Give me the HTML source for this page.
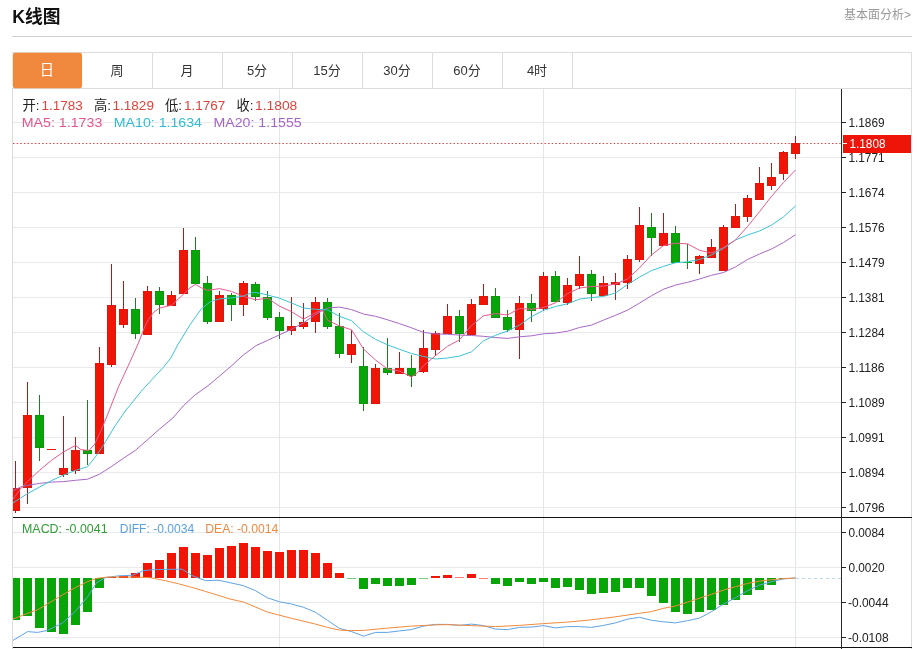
<!DOCTYPE html>
<html lang="zh-CN">
<head>
<meta charset="utf-8">
<title>K线图</title>
<style>
html,body{margin:0;padding:0;background:#fff;}
body{width:917px;height:649px;overflow:hidden;font-family:"Liberation Sans","Noto Sans CJK SC",sans-serif;}
svg{display:block;}
svg text{font-family:"Liberation Sans","Noto Sans CJK SC",sans-serif;}
svg.tx{will-change:transform;}
.c rect,.c line{shape-rendering:crispEdges;}
</style>
</head>
<body>
<svg class="tx" width="917" height="649" viewBox="0 0 917 649">
<rect x="0" y="0" width="917" height="649" fill="#fff"/>
<text x="12.3" y="22.8" font-size="18" font-weight="bold" fill="#111" textLength="48.3" lengthAdjust="spacingAndGlyphs">K线图</text>
<text x="911" y="19" font-size="12" fill="#999" text-anchor="end">基本面分析&gt;</text>
<g class="c">
<rect x="12" y="36" width="900" height="1" fill="#cfcfcf"/>
<rect x="12" y="52" width="900" height="1" fill="#dcdcdc"/>
<rect x="12" y="88" width="900" height="1" fill="#dcdcdc"/>
<rect x="152" y="52" width="1" height="36" fill="#dcdcdc"/>
<rect x="222" y="52" width="1" height="36" fill="#dcdcdc"/>
<rect x="292" y="52" width="1" height="36" fill="#dcdcdc"/>
<rect x="362" y="52" width="1" height="36" fill="#dcdcdc"/>
<rect x="432" y="52" width="1" height="36" fill="#dcdcdc"/>
<rect x="502" y="52" width="1" height="36" fill="#dcdcdc"/>
<rect x="572" y="52" width="1" height="36" fill="#dcdcdc"/>
<rect x="12" y="88" width="1" height="561" fill="#dcdcdc"/>
<rect x="911" y="52" width="1" height="597" fill="#dcdcdc"/>
</g>
<rect x="12.8" y="52.7" width="69.2" height="35.5" rx="2.2" ry="2.2" fill="#f0883e"/>
<text x="47" y="75.1" font-size="14.3" fill="#fff" text-anchor="middle">日</text>
<text x="117" y="74.6" font-size="13" fill="#333" text-anchor="middle">周</text>
<text x="187" y="74.6" font-size="13" fill="#333" text-anchor="middle">月</text>
<text x="257" y="74.6" font-size="13" fill="#333" text-anchor="middle">5分</text>
<text x="327" y="74.6" font-size="13" fill="#333" text-anchor="middle">15分</text>
<text x="397" y="74.6" font-size="13" fill="#333" text-anchor="middle">30分</text>
<text x="467" y="74.6" font-size="13" fill="#333" text-anchor="middle">60分</text>
<text x="537" y="74.6" font-size="13" fill="#333" text-anchor="middle">4时</text>
<g class="c">
<rect x="13" y="122" width="828" height="1" fill="#e8eaed"/>
<rect x="13" y="157" width="828" height="1" fill="#e8eaed"/>
<rect x="13" y="192" width="828" height="1" fill="#e8eaed"/>
<rect x="13" y="227" width="828" height="1" fill="#e8eaed"/>
<rect x="13" y="262" width="828" height="1" fill="#e8eaed"/>
<rect x="13" y="297" width="828" height="1" fill="#e8eaed"/>
<rect x="13" y="332" width="828" height="1" fill="#e8eaed"/>
<rect x="13" y="367" width="828" height="1" fill="#e8eaed"/>
<rect x="13" y="402" width="828" height="1" fill="#e8eaed"/>
<rect x="13" y="437" width="828" height="1" fill="#e8eaed"/>
<rect x="13" y="472" width="828" height="1" fill="#e8eaed"/>
<rect x="13" y="507" width="828" height="1" fill="#e8eaed"/>
<rect x="13" y="532" width="828" height="1" fill="#e8eaed"/>
<rect x="13" y="567" width="828" height="1" fill="#e8eaed"/>
<rect x="13" y="602" width="828" height="1" fill="#e8eaed"/>
<rect x="13" y="637" width="828" height="1" fill="#e8eaed"/>
<rect x="279" y="89" width="1" height="558" fill="#e3e6ec"/>
<rect x="543" y="89" width="1" height="558" fill="#e3e6ec"/>
<rect x="795" y="89" width="1" height="558" fill="#e3e6ec"/>
</g>
<line x1="13" y1="143.5" x2="841" y2="143.5" stroke="#d44a44" stroke-width="1" stroke-dasharray="1.5,2.14"/>
<clipPath id="cp"><rect x="13" y="89" width="828" height="428"/></clipPath>
<g class="c" clip-path="url(#cp)">
<rect x="15" y="461" width="1" height="52" fill="#ad1a1c"/>
<rect x="11" y="488" width="9" height="23" fill="#d8190b"/>
<rect x="12" y="489" width="7" height="21" fill="#f01506"/>
<rect x="27" y="382" width="1" height="122" fill="#ad1a1c"/>
<rect x="23" y="415" width="9" height="73" fill="#d8190b"/>
<rect x="24" y="416" width="7" height="71" fill="#f01506"/>
<rect x="39" y="395" width="1" height="66" fill="#1f7d22"/>
<rect x="35" y="415" width="9" height="33" fill="#10950f"/>
<rect x="36" y="416" width="7" height="31" fill="#07a507"/>
<rect x="47" y="449" width="9" height="1" fill="#f01506"/>
<rect x="63" y="416" width="1" height="61" fill="#ad1a1c"/>
<rect x="59" y="468" width="9" height="7" fill="#d8190b"/>
<rect x="60" y="469" width="7" height="5" fill="#f01506"/>
<rect x="75" y="437" width="1" height="37" fill="#ad1a1c"/>
<rect x="71" y="450" width="9" height="21" fill="#d8190b"/>
<rect x="72" y="451" width="7" height="19" fill="#f01506"/>
<rect x="87" y="400" width="1" height="65" fill="#1f7d22"/>
<rect x="83" y="450" width="9" height="4" fill="#10950f"/>
<rect x="84" y="451" width="7" height="2" fill="#07a507"/>
<rect x="99" y="347" width="1" height="107" fill="#ad1a1c"/>
<rect x="95" y="363" width="9" height="91" fill="#d8190b"/>
<rect x="96" y="364" width="7" height="89" fill="#f01506"/>
<rect x="111" y="264" width="1" height="103" fill="#ad1a1c"/>
<rect x="107" y="305" width="9" height="60" fill="#d8190b"/>
<rect x="108" y="306" width="7" height="58" fill="#f01506"/>
<rect x="123" y="281" width="1" height="47" fill="#ad1a1c"/>
<rect x="119" y="309" width="9" height="16" fill="#d8190b"/>
<rect x="120" y="310" width="7" height="14" fill="#f01506"/>
<rect x="135" y="298" width="1" height="41" fill="#1f7d22"/>
<rect x="131" y="309" width="9" height="25" fill="#10950f"/>
<rect x="132" y="310" width="7" height="23" fill="#07a507"/>
<rect x="147" y="286" width="1" height="49" fill="#ad1a1c"/>
<rect x="143" y="291" width="9" height="44" fill="#d8190b"/>
<rect x="144" y="292" width="7" height="42" fill="#f01506"/>
<rect x="159" y="287" width="1" height="27" fill="#1f7d22"/>
<rect x="155" y="291" width="9" height="14" fill="#10950f"/>
<rect x="156" y="292" width="7" height="12" fill="#07a507"/>
<rect x="171" y="291" width="1" height="14" fill="#ad1a1c"/>
<rect x="167" y="295" width="9" height="11" fill="#d8190b"/>
<rect x="168" y="296" width="7" height="9" fill="#f01506"/>
<rect x="183" y="228" width="1" height="66" fill="#ad1a1c"/>
<rect x="179" y="250" width="9" height="44" fill="#d8190b"/>
<rect x="180" y="251" width="7" height="42" fill="#f01506"/>
<rect x="195" y="237" width="1" height="47" fill="#1f7d22"/>
<rect x="191" y="250" width="9" height="34" fill="#10950f"/>
<rect x="192" y="251" width="7" height="32" fill="#07a507"/>
<rect x="207" y="276" width="1" height="48" fill="#1f7d22"/>
<rect x="203" y="283" width="9" height="39" fill="#10950f"/>
<rect x="204" y="284" width="7" height="37" fill="#07a507"/>
<rect x="219" y="291" width="1" height="31" fill="#ad1a1c"/>
<rect x="215" y="295" width="9" height="27" fill="#d8190b"/>
<rect x="216" y="296" width="7" height="25" fill="#f01506"/>
<rect x="231" y="293" width="1" height="28" fill="#1f7d22"/>
<rect x="227" y="295" width="9" height="10" fill="#10950f"/>
<rect x="228" y="296" width="7" height="8" fill="#07a507"/>
<rect x="243" y="281" width="1" height="35" fill="#ad1a1c"/>
<rect x="239" y="283" width="9" height="22" fill="#d8190b"/>
<rect x="240" y="284" width="7" height="20" fill="#f01506"/>
<rect x="255" y="282" width="1" height="19" fill="#1f7d22"/>
<rect x="251" y="284" width="9" height="13" fill="#10950f"/>
<rect x="252" y="285" width="7" height="11" fill="#07a507"/>
<rect x="267" y="291" width="1" height="29" fill="#1f7d22"/>
<rect x="263" y="297" width="9" height="21" fill="#10950f"/>
<rect x="264" y="298" width="7" height="19" fill="#07a507"/>
<rect x="279" y="312" width="1" height="27" fill="#1f7d22"/>
<rect x="275" y="317" width="9" height="14" fill="#10950f"/>
<rect x="276" y="318" width="7" height="12" fill="#07a507"/>
<rect x="291" y="297" width="1" height="38" fill="#ad1a1c"/>
<rect x="287" y="326" width="9" height="5" fill="#d8190b"/>
<rect x="288" y="327" width="7" height="3" fill="#f01506"/>
<rect x="303" y="303" width="1" height="26" fill="#ad1a1c"/>
<rect x="299" y="322" width="9" height="5" fill="#d8190b"/>
<rect x="300" y="323" width="7" height="3" fill="#f01506"/>
<rect x="315" y="297" width="1" height="36" fill="#ad1a1c"/>
<rect x="311" y="302" width="9" height="20" fill="#d8190b"/>
<rect x="312" y="303" width="7" height="18" fill="#f01506"/>
<rect x="327" y="298" width="1" height="31" fill="#1f7d22"/>
<rect x="323" y="302" width="9" height="25" fill="#10950f"/>
<rect x="324" y="303" width="7" height="23" fill="#07a507"/>
<rect x="339" y="313" width="1" height="45" fill="#1f7d22"/>
<rect x="335" y="326" width="9" height="28" fill="#10950f"/>
<rect x="336" y="327" width="7" height="26" fill="#07a507"/>
<rect x="351" y="330" width="1" height="33" fill="#ad1a1c"/>
<rect x="347" y="344" width="9" height="11" fill="#d8190b"/>
<rect x="348" y="345" width="7" height="9" fill="#f01506"/>
<rect x="363" y="347" width="1" height="64" fill="#1f7d22"/>
<rect x="359" y="366" width="9" height="38" fill="#10950f"/>
<rect x="360" y="367" width="7" height="36" fill="#07a507"/>
<rect x="375" y="364" width="1" height="40" fill="#ad1a1c"/>
<rect x="371" y="368" width="9" height="36" fill="#d8190b"/>
<rect x="372" y="369" width="7" height="34" fill="#f01506"/>
<rect x="387" y="338" width="1" height="37" fill="#1f7d22"/>
<rect x="383" y="368" width="9" height="5" fill="#10950f"/>
<rect x="384" y="369" width="7" height="3" fill="#07a507"/>
<rect x="399" y="352" width="1" height="22" fill="#ad1a1c"/>
<rect x="395" y="368" width="9" height="6" fill="#d8190b"/>
<rect x="396" y="369" width="7" height="4" fill="#f01506"/>
<rect x="411" y="355" width="1" height="32" fill="#1f7d22"/>
<rect x="407" y="368" width="9" height="8" fill="#10950f"/>
<rect x="408" y="369" width="7" height="6" fill="#07a507"/>
<rect x="423" y="330" width="1" height="43" fill="#ad1a1c"/>
<rect x="419" y="348" width="9" height="24" fill="#d8190b"/>
<rect x="420" y="349" width="7" height="22" fill="#f01506"/>
<rect x="435" y="331" width="1" height="25" fill="#ad1a1c"/>
<rect x="431" y="333" width="9" height="17" fill="#d8190b"/>
<rect x="432" y="334" width="7" height="15" fill="#f01506"/>
<rect x="447" y="304" width="1" height="30" fill="#ad1a1c"/>
<rect x="443" y="316" width="9" height="18" fill="#d8190b"/>
<rect x="444" y="317" width="7" height="16" fill="#f01506"/>
<rect x="459" y="310" width="1" height="32" fill="#1f7d22"/>
<rect x="455" y="316" width="9" height="18" fill="#10950f"/>
<rect x="456" y="317" width="7" height="16" fill="#07a507"/>
<rect x="471" y="299" width="1" height="36" fill="#ad1a1c"/>
<rect x="467" y="304" width="9" height="31" fill="#d8190b"/>
<rect x="468" y="305" width="7" height="29" fill="#f01506"/>
<rect x="483" y="284" width="1" height="21" fill="#ad1a1c"/>
<rect x="479" y="296" width="9" height="9" fill="#d8190b"/>
<rect x="480" y="297" width="7" height="7" fill="#f01506"/>
<rect x="495" y="288" width="1" height="30" fill="#1f7d22"/>
<rect x="491" y="296" width="9" height="22" fill="#10950f"/>
<rect x="492" y="297" width="7" height="20" fill="#07a507"/>
<rect x="507" y="310" width="1" height="22" fill="#1f7d22"/>
<rect x="503" y="317" width="9" height="13" fill="#10950f"/>
<rect x="504" y="318" width="7" height="11" fill="#07a507"/>
<rect x="519" y="296" width="1" height="63" fill="#ad1a1c"/>
<rect x="515" y="303" width="9" height="27" fill="#d8190b"/>
<rect x="516" y="304" width="7" height="25" fill="#f01506"/>
<rect x="531" y="294" width="1" height="28" fill="#1f7d22"/>
<rect x="527" y="303" width="9" height="8" fill="#10950f"/>
<rect x="528" y="304" width="7" height="6" fill="#07a507"/>
<rect x="543" y="272" width="1" height="39" fill="#ad1a1c"/>
<rect x="539" y="276" width="9" height="33" fill="#d8190b"/>
<rect x="540" y="277" width="7" height="31" fill="#f01506"/>
<rect x="555" y="271" width="1" height="31" fill="#1f7d22"/>
<rect x="551" y="276" width="9" height="26" fill="#10950f"/>
<rect x="552" y="277" width="7" height="24" fill="#07a507"/>
<rect x="567" y="278" width="1" height="27" fill="#ad1a1c"/>
<rect x="563" y="285" width="9" height="18" fill="#d8190b"/>
<rect x="564" y="286" width="7" height="16" fill="#f01506"/>
<rect x="579" y="256" width="1" height="33" fill="#ad1a1c"/>
<rect x="575" y="274" width="9" height="12" fill="#d8190b"/>
<rect x="576" y="275" width="7" height="10" fill="#f01506"/>
<rect x="591" y="270" width="1" height="31" fill="#1f7d22"/>
<rect x="587" y="274" width="9" height="20" fill="#10950f"/>
<rect x="588" y="275" width="7" height="18" fill="#07a507"/>
<rect x="603" y="276" width="1" height="20" fill="#ad1a1c"/>
<rect x="599" y="283" width="9" height="13" fill="#d8190b"/>
<rect x="600" y="284" width="7" height="11" fill="#f01506"/>
<rect x="615" y="273" width="1" height="27" fill="#ad1a1c"/>
<rect x="611" y="282" width="9" height="3" fill="#d8190b"/>
<rect x="612" y="283" width="7" height="1" fill="#f01506"/>
<rect x="627" y="255" width="1" height="34" fill="#ad1a1c"/>
<rect x="623" y="259" width="9" height="24" fill="#d8190b"/>
<rect x="624" y="260" width="7" height="22" fill="#f01506"/>
<rect x="639" y="207" width="1" height="55" fill="#ad1a1c"/>
<rect x="635" y="225" width="9" height="35" fill="#d8190b"/>
<rect x="636" y="226" width="7" height="33" fill="#f01506"/>
<rect x="651" y="213" width="1" height="43" fill="#1f7d22"/>
<rect x="647" y="227" width="9" height="11" fill="#10950f"/>
<rect x="648" y="228" width="7" height="9" fill="#07a507"/>
<rect x="663" y="213" width="1" height="33" fill="#ad1a1c"/>
<rect x="659" y="233" width="9" height="13" fill="#d8190b"/>
<rect x="660" y="234" width="7" height="11" fill="#f01506"/>
<rect x="675" y="226" width="1" height="37" fill="#1f7d22"/>
<rect x="671" y="233" width="9" height="30" fill="#10950f"/>
<rect x="672" y="234" width="7" height="28" fill="#07a507"/>
<rect x="687" y="244" width="1" height="25" fill="#1f7d22"/>
<rect x="683" y="262" width="9" height="1" fill="#07a507"/>
<rect x="699" y="255" width="1" height="19" fill="#ad1a1c"/>
<rect x="695" y="256" width="9" height="8" fill="#d8190b"/>
<rect x="696" y="257" width="7" height="6" fill="#f01506"/>
<rect x="711" y="239" width="1" height="19" fill="#ad1a1c"/>
<rect x="707" y="247" width="9" height="11" fill="#d8190b"/>
<rect x="708" y="248" width="7" height="9" fill="#f01506"/>
<rect x="723" y="225" width="1" height="46" fill="#ad1a1c"/>
<rect x="719" y="227" width="9" height="44" fill="#d8190b"/>
<rect x="720" y="228" width="7" height="42" fill="#f01506"/>
<rect x="735" y="204" width="1" height="24" fill="#ad1a1c"/>
<rect x="731" y="216" width="9" height="12" fill="#d8190b"/>
<rect x="732" y="217" width="7" height="10" fill="#f01506"/>
<rect x="747" y="195" width="1" height="27" fill="#ad1a1c"/>
<rect x="743" y="198" width="9" height="19" fill="#d8190b"/>
<rect x="744" y="199" width="7" height="17" fill="#f01506"/>
<rect x="759" y="167" width="1" height="33" fill="#ad1a1c"/>
<rect x="755" y="183" width="9" height="17" fill="#d8190b"/>
<rect x="756" y="184" width="7" height="15" fill="#f01506"/>
<rect x="771" y="163" width="1" height="27" fill="#ad1a1c"/>
<rect x="767" y="177" width="9" height="9" fill="#d8190b"/>
<rect x="768" y="178" width="7" height="7" fill="#f01506"/>
<rect x="783" y="151" width="1" height="29" fill="#ad1a1c"/>
<rect x="779" y="152" width="9" height="22" fill="#d8190b"/>
<rect x="780" y="153" width="7" height="20" fill="#f01506"/>
<rect x="795" y="136" width="1" height="23" fill="#ad1a1c"/>
<rect x="791" y="143" width="9" height="11" fill="#d8190b"/>
<rect x="792" y="144" width="7" height="9" fill="#f01506"/>
</g>
<polyline points="13,490.8 20.4,487.1 27.5,485.3 39.5,483.4 51.5,482.1 63.5,481.6 75.5,480.3 87.5,479.2 99.5,474.2 111.2,466.7 123.3,458.4 135.3,450.4 148.4,439 159.6,429 172.6,418.3 183.8,405.3 194.9,395.1 207.9,385.8 219,376.5 232,365.4 243.1,355.2 256.1,345.6 267.5,340.4 279.5,334.8 291.5,329.3 303.5,322.8 315.5,314.5 327.5,308 339.5,307.1 351.5,309.6 363.5,314 375.5,316.3 387.5,319.8 399.5,323.6 411.5,327.8 423.5,332.4 435.5,333.9 447.5,334.3 459.5,335.1 471.5,335.5 483.5,336.3 495.5,337.5 507.5,338.4 519.5,336.8 531.5,335.8 543.5,333.8 555.5,333.1 567.5,331.2 579.5,327.5 591.5,325.1 603.5,320.1 615.5,315.3 627.8,310 639.5,303.1 651.5,295.7 663.5,289.2 675.5,285.1 687.5,282.3 699.5,279 711.5,275.3 723.5,272.5 735.5,266.9 747.5,259.5 759.5,254 771.5,249 783.5,242.5 795.5,234.8" fill="none" stroke="#a868c6" stroke-width="1" stroke-linejoin="round"/>
<polyline points="13,502.9 27.5,493.6 39.5,487.1 51.5,480.6 63.5,475.1 75.5,470.4 87.5,466.7 96.4,455.6 103.8,444.5 115,426 126,410 130,405.3 141.1,391.4 152.2,379.3 163.4,367.3 170.8,358 178.2,344.1 185.6,332.1 190.1,324.7 201.2,309 210.5,301.6 219.8,298.8 231.5,297.9 243.5,296 253.1,292.3 260,293.2 267.5,295 279.5,298.2 291.5,303 303.5,308 315.5,309.3 327.5,309.9 339.5,316.3 351.5,320.7 363.5,331.8 375.5,339.3 387.5,344.8 399.5,349.3 411.5,353.5 423.5,356.5 435.5,359 447.5,358 459.5,356 471.5,351.8 483.5,340.8 495.5,335.3 507.5,331 519.5,325.1 531.5,316.7 543.5,310.3 555.5,306.5 567.5,303.8 579.5,299.1 591.5,297.6 603.5,296.4 615.5,293 627.5,284.5 639.5,277.1 651.5,270.6 663.5,266.4 675.5,262.7 687.5,261.9 699.5,259.5 711.5,254.9 723.5,248.4 735.5,240 747.5,235 759.5,231 771.5,225.1 783.5,216.8 795.5,206" fill="none" stroke="#3cc4d6" stroke-width="1" stroke-linejoin="round"/>
<polyline points="13,499.2 20.4,489 27.5,481.6 39.5,470.4 51.5,460.3 63.5,451.9 75.5,445.4 81,449.7 89,450.4 94.5,444.5 101,430.6 107.5,414.8 109.4,410 118.7,386.4 129.8,362.3 138.1,343.8 144.6,327.1 148.3,319.7 153.9,312.2 159.5,308.1 171.5,305.3 183.5,294.2 190.1,287.7 195.5,284.5 201.2,287.7 207.5,290.4 219.5,288.6 231.5,291.4 243.5,296.4 255.5,299.7 267.5,298.2 279.5,306.2 291.5,311.7 303.5,319.1 315.5,312.6 322.5,309.9 327.5,320.1 339.5,326 351.5,329.7 363.5,349 375.5,360 387.5,369 399.5,371 411.5,377 417.9,372.3 423.5,365.8 435.5,355.6 447.5,346.3 459.5,339.8 471.5,325.5 483.5,315.8 495.5,313.6 507.5,315 519.5,308.4 531.5,309.3 543.5,307.5 555.5,302.8 567.5,293.6 579.5,288 591.5,286.5 603.5,286.1 615.5,284 627.5,279 639.5,267.9 651.5,254.9 663.5,245.6 675.5,243.2 687.5,243.8 699.5,250.3 711.5,253 723.5,247.5 735.5,240 747.5,226.5 759.5,211.7 771.5,196.4 783.5,182.5 795.5,170" fill="none" stroke="#ea5a8e" stroke-width="1" stroke-linejoin="round"/>
<clipPath id="cp2"><rect x="13" y="518" width="828" height="129"/></clipPath>
<g class="c" clip-path="url(#cp2)">
<rect x="11" y="578" width="9" height="42" fill="#07a507"/>
<rect x="23" y="578" width="9" height="38" fill="#07a507"/>
<rect x="35" y="578" width="9" height="50" fill="#07a507"/>
<rect x="47" y="578" width="9" height="54" fill="#07a507"/>
<rect x="59" y="578" width="9" height="56" fill="#07a507"/>
<rect x="71" y="578" width="9" height="47" fill="#07a507"/>
<rect x="83" y="578" width="9" height="34" fill="#07a507"/>
<rect x="95" y="578" width="9" height="10" fill="#07a507"/>
<rect x="107" y="577" width="9" height="1" fill="#f01506"/>
<rect x="119" y="576" width="9" height="2" fill="#f01506"/>
<rect x="131" y="573" width="9" height="5" fill="#f01506"/>
<rect x="143" y="563" width="9" height="15" fill="#f01506"/>
<rect x="155" y="560" width="9" height="18" fill="#f01506"/>
<rect x="167" y="553" width="9" height="25" fill="#f01506"/>
<rect x="179" y="547" width="9" height="31" fill="#f01506"/>
<rect x="191" y="553" width="9" height="25" fill="#f01506"/>
<rect x="203" y="555" width="9" height="23" fill="#f01506"/>
<rect x="215" y="548" width="9" height="30" fill="#f01506"/>
<rect x="227" y="546" width="9" height="32" fill="#f01506"/>
<rect x="239" y="543" width="9" height="35" fill="#f01506"/>
<rect x="251" y="547" width="9" height="31" fill="#f01506"/>
<rect x="263" y="551" width="9" height="27" fill="#f01506"/>
<rect x="275" y="552" width="9" height="26" fill="#f01506"/>
<rect x="287" y="550" width="9" height="28" fill="#f01506"/>
<rect x="299" y="550" width="9" height="28" fill="#f01506"/>
<rect x="311" y="553" width="9" height="25" fill="#f01506"/>
<rect x="323" y="563" width="9" height="15" fill="#f01506"/>
<rect x="335" y="573" width="9" height="5" fill="#f01506"/>
<rect x="347" y="578" width="9" height="1" fill="#07a507" opacity="0.55"/>
<rect x="359" y="578" width="9" height="11" fill="#07a507"/>
<rect x="371" y="578" width="9" height="6" fill="#07a507"/>
<rect x="383" y="578" width="9" height="8" fill="#07a507"/>
<rect x="395" y="578" width="9" height="8" fill="#07a507"/>
<rect x="407" y="578" width="9" height="7" fill="#07a507"/>
<rect x="419" y="578" width="9" height="1" fill="#07a507" opacity="0.55"/>
<rect x="431" y="576" width="9" height="2" fill="#f01506"/>
<rect x="443" y="575" width="9" height="3" fill="#f01506"/>
<rect x="455" y="577" width="9" height="1" fill="#f01506" opacity="0.55"/>
<rect x="467" y="574" width="9" height="4" fill="#f01506"/>
<rect x="479" y="578" width="9" height="1" fill="#f01506" opacity="0.55"/>
<rect x="491" y="578" width="9" height="6" fill="#07a507"/>
<rect x="503" y="578" width="9" height="8" fill="#07a507"/>
<rect x="515" y="578" width="9" height="4" fill="#07a507"/>
<rect x="527" y="578" width="9" height="6" fill="#07a507"/>
<rect x="539" y="578" width="9" height="4" fill="#07a507"/>
<rect x="551" y="578" width="9" height="10" fill="#07a507"/>
<rect x="563" y="578" width="9" height="9" fill="#07a507"/>
<rect x="575" y="578" width="9" height="12" fill="#07a507"/>
<rect x="587" y="578" width="9" height="16" fill="#07a507"/>
<rect x="599" y="578" width="9" height="15" fill="#07a507"/>
<rect x="611" y="578" width="9" height="14" fill="#07a507"/>
<rect x="623" y="578" width="9" height="10" fill="#07a507"/>
<rect x="635" y="578" width="9" height="10" fill="#07a507"/>
<rect x="647" y="578" width="9" height="18" fill="#07a507"/>
<rect x="659" y="578" width="9" height="25" fill="#07a507"/>
<rect x="671" y="578" width="9" height="34" fill="#07a507"/>
<rect x="683" y="578" width="9" height="36" fill="#07a507"/>
<rect x="695" y="578" width="9" height="34" fill="#07a507"/>
<rect x="707" y="578" width="9" height="32" fill="#07a507"/>
<rect x="719" y="578" width="9" height="27" fill="#07a507"/>
<rect x="731" y="578" width="9" height="22" fill="#07a507"/>
<rect x="743" y="578" width="9" height="17" fill="#07a507"/>
<rect x="755" y="578" width="9" height="12" fill="#07a507"/>
<rect x="767" y="578" width="9" height="7" fill="#07a507"/>
<rect x="779" y="578" width="9" height="1" fill="#07a507"/>
</g>
<line x1="796" y1="578.5" x2="841" y2="578.5" stroke="#b8d8ee" stroke-width="1" stroke-dasharray="3,3"/>
<polyline points="13,640.4 27.6,631.6 37.6,632.4 47.7,630.4 62.7,622.8 75.2,611.6 87.8,596.5 96.6,582.7 105.3,577.7 117.9,575.9 132.9,575.2 143,570.7 153,569.7 165.5,569.4 182,569.1 191.5,575.4 205.7,580.7 218.2,580.2 230,582.7 243.5,585.7 255.5,590.7 267.5,597.8 279.5,601.8 291.5,604 303.5,607.3 315.5,612.3 327.5,620.3 339.5,628.4 351.5,631.6 363.5,636.1 375.5,632.4 387.5,632.4 399.5,630.9 411.5,629.6 423.5,626.1 435.5,624.4 447.5,624.4 459.5,625.4 471.5,624.1 483.5,625.6 495.5,629.1 507.5,629.6 519.5,627.4 531.5,627.1 543.5,625.6 555.5,627.9 567.5,626.6 579.5,626.6 591.5,627.4 603.5,625.4 615.5,622.9 627.5,619.1 639.5,617.3 651.5,620.3 663.5,621.8 675.5,622.9 687.5,620.7 699.5,618.1 711.5,611.7 723.5,604.1 735.5,597.7 747.5,590.7 759.5,585.1 771.5,581.7 783.5,578.9 795.5,578" fill="none" stroke="#5fa4e4" stroke-width="1" stroke-linejoin="round"/>
<polyline points="13,619.1 27.6,613.3 37.6,609.8 50.2,602.3 62.7,594.8 75.2,587.7 87.8,581.5 97.8,578.2 107.9,577 132.9,577 150.5,577.7 165.5,580.7 179.3,584 190.6,587 205.7,591.5 218.2,595.3 230,599 243.5,602 267.5,612.1 291.5,618.3 315.5,624.1 327.5,627.4 339.5,630.1 351.5,630.6 363.5,630.4 387.5,628.1 411.5,626.1 435.5,624.9 447.5,624.6 471.5,625.6 495.5,626.6 519.5,625.4 543.5,623.6 567.5,622.1 591.5,619.8 615.5,616.8 639.5,613.3 651.5,611.6 663.5,608.3 675.5,606.1 687.5,602.2 699.5,598.2 711.5,594.3 723.5,590.1 735.5,586.7 747.5,583.4 759.5,581.1 771.5,579.7 783.5,578.6 795.5,578" fill="none" stroke="#f28a3c" stroke-width="1" stroke-linejoin="round"/>
<g class="c">
<rect x="13" y="517" width="899" height="1" fill="#111"/>
<rect x="13" y="647" width="899" height="1" fill="#111"/>
<rect x="841" y="89" width="1" height="560" fill="#2a2a2a"/>
<rect x="842" y="122" width="4" height="1" fill="#222"/>
<rect x="842" y="157" width="4" height="1" fill="#222"/>
<rect x="842" y="192" width="4" height="1" fill="#222"/>
<rect x="842" y="227" width="4" height="1" fill="#222"/>
<rect x="842" y="262" width="4" height="1" fill="#222"/>
<rect x="842" y="297" width="4" height="1" fill="#222"/>
<rect x="842" y="332" width="4" height="1" fill="#222"/>
<rect x="842" y="367" width="4" height="1" fill="#222"/>
<rect x="842" y="402" width="4" height="1" fill="#222"/>
<rect x="842" y="437" width="4" height="1" fill="#222"/>
<rect x="842" y="472" width="4" height="1" fill="#222"/>
<rect x="842" y="507" width="4" height="1" fill="#222"/>
<rect x="842" y="532" width="4" height="1" fill="#222"/>
<rect x="842" y="567" width="4" height="1" fill="#222"/>
<rect x="842" y="602" width="4" height="1" fill="#222"/>
<rect x="842" y="637" width="4" height="1" fill="#222"/>
</g>
<text x="848.4" y="126.6" font-size="12.2" fill="#222" textLength="36.2" lengthAdjust="spacingAndGlyphs">1.1869</text>
<text x="848.4" y="161.6" font-size="12.2" fill="#222" textLength="36.2" lengthAdjust="spacingAndGlyphs">1.1771</text>
<text x="848.4" y="196.6" font-size="12.2" fill="#222" textLength="36.2" lengthAdjust="spacingAndGlyphs">1.1674</text>
<text x="848.4" y="231.6" font-size="12.2" fill="#222" textLength="36.2" lengthAdjust="spacingAndGlyphs">1.1576</text>
<text x="848.4" y="266.6" font-size="12.2" fill="#222" textLength="36.2" lengthAdjust="spacingAndGlyphs">1.1479</text>
<text x="848.4" y="301.6" font-size="12.2" fill="#222" textLength="36.2" lengthAdjust="spacingAndGlyphs">1.1381</text>
<text x="848.4" y="336.6" font-size="12.2" fill="#222" textLength="36.2" lengthAdjust="spacingAndGlyphs">1.1284</text>
<text x="848.4" y="371.6" font-size="12.2" fill="#222" textLength="36.2" lengthAdjust="spacingAndGlyphs">1.1186</text>
<text x="848.4" y="406.6" font-size="12.2" fill="#222" textLength="36.2" lengthAdjust="spacingAndGlyphs">1.1089</text>
<text x="848.4" y="441.6" font-size="12.2" fill="#222" textLength="36.2" lengthAdjust="spacingAndGlyphs">1.0991</text>
<text x="848.4" y="476.6" font-size="12.2" fill="#222" textLength="36.2" lengthAdjust="spacingAndGlyphs">1.0894</text>
<text x="848.4" y="511.6" font-size="12.2" fill="#222" textLength="36.2" lengthAdjust="spacingAndGlyphs">1.0796</text>
<text x="848.4" y="536.6" font-size="12.2" fill="#222" textLength="36.2" lengthAdjust="spacingAndGlyphs">0.0084</text>
<text x="848.4" y="571.6" font-size="12.2" fill="#222" textLength="36.2" lengthAdjust="spacingAndGlyphs">0.0020</text>
<text x="848" y="606.6" font-size="12.2" fill="#222" textLength="40.6" lengthAdjust="spacingAndGlyphs">-0.0044</text>
<text x="848" y="641.6" font-size="12.2" fill="#222" textLength="40.6" lengthAdjust="spacingAndGlyphs">-0.0108</text>
<rect x="843" y="135" width="68" height="18" fill="#ee1508" shape-rendering="crispEdges"/>
<rect x="843" y="143" width="4" height="1" fill="#fff" shape-rendering="crispEdges"/>
<text x="849.4" y="148.3" font-size="12.2" fill="#fff" textLength="36.2" lengthAdjust="spacingAndGlyphs">1.1808</text>
<text x="22.5" y="109.8" font-size="13.3" fill="#222" textLength="17" lengthAdjust="spacingAndGlyphs">开:</text>
<text x="41.4" y="109.8" font-size="13.3" fill="#e0433c" textLength="41.3" lengthAdjust="spacingAndGlyphs">1.1783</text>
<text x="94" y="109.8" font-size="13.3" fill="#222" textLength="17" lengthAdjust="spacingAndGlyphs">高:</text>
<text x="112.4" y="109.8" font-size="13.3" fill="#e0433c" textLength="41.6" lengthAdjust="spacingAndGlyphs">1.1829</text>
<text x="165" y="109.8" font-size="13.3" fill="#222" textLength="17" lengthAdjust="spacingAndGlyphs">低:</text>
<text x="184" y="109.8" font-size="13.3" fill="#e0433c" textLength="41.3" lengthAdjust="spacingAndGlyphs">1.1767</text>
<text x="236.5" y="109.8" font-size="13.3" fill="#222" textLength="17" lengthAdjust="spacingAndGlyphs">收:</text>
<text x="255" y="109.8" font-size="13.3" fill="#e0433c" textLength="42.3" lengthAdjust="spacingAndGlyphs">1.1808</text>
<text x="21.8" y="127.4" font-size="13.3" fill="#e2558e" textLength="80.5" lengthAdjust="spacingAndGlyphs">MA5: 1.1733</text>
<text x="113.8" y="127.4" font-size="13.3" fill="#2fbcd2" textLength="88.2" lengthAdjust="spacingAndGlyphs">MA10: 1.1634</text>
<text x="213.5" y="127.4" font-size="13.3" fill="#a565c4" textLength="88.2" lengthAdjust="spacingAndGlyphs">MA20: 1.1555</text>
<text x="22" y="533.3" font-size="13" fill="#2e9e35" textLength="85.6" lengthAdjust="spacingAndGlyphs">MACD: -0.0041</text>
<text x="119.7" y="533.3" font-size="13" fill="#5a9fe0" textLength="74.4" lengthAdjust="spacingAndGlyphs">DIFF: -0.0034</text>
<text x="205.2" y="533.3" font-size="13" fill="#ee8a40" textLength="73.2" lengthAdjust="spacingAndGlyphs">DEA: -0.0014</text>
</svg>
</body>
</html>
